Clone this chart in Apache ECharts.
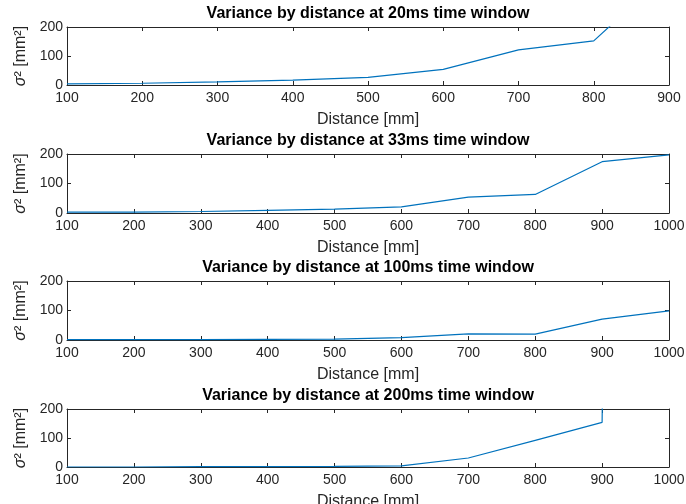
<!DOCTYPE html>
<html>
<head>
<meta charset="utf-8">
<script src="https://cdn.jsdelivr.net/npm/echarts@6/dist/echarts.min.js"></script>
<style>
    html, body { margin: 0; padding: 0; background: #fff; }
    #main { width: 686px; height: 504px; }
</style>
</head>
<body>
<div id="main"></div>
<script>
// 数据
var distance = [100, 200, 300, 400, 500, 600, 700, 800, 900, 1000];
var var20 = [4, 6, 11, 17, 26, 54, 121, 152, 390];
var var33 = [3, 3, 5, 9, 13, 21, 54, 63, 174, 197];
var var100 = [1, 1, 1, 2, 3, 8, 21, 20, 71, 99];
var var200 = [0, 0, 1, 1, 2, 4, 31, 92, 154, 20000];
var windows = ['20ms', '33ms', '100ms', '200ms'];
var xMax = [900, 1000, 1000, 1000];
var yTicks = [0, 100, 200];

var allVars = [var20, var33, var100, var200];
var tops = [27, 154, 281, 409];
var heights = [58, 59, 59, 58];
var axisColor = '#262626';
var fontFam = 'Liberation Sans, Arial, sans-serif';

function pairs(xs, ys) {
    var out = [];
    for (var i = 0; i < ys.length; i++) {
        out.push([xs[i], ys[i]]);
    }
    return out;
}

function plain(v) {
    return String(v);
}

var option = {
    animation: false,
    backgroundColor: '#fff',
    grid: [],
    xAxis: [],
    yAxis: [],
    series: []
};

for (var k = 0; k < 4; k++) {
    option.grid.push({
        left: 67, right: 17, top: tops[k], height: heights[k],
        outerBoundsMode: 'none',
        show: false
    });
    // 下方x轴
    option.xAxis.push({
        type: 'value', gridIndex: k, min: 100, max: xMax[k], interval: 100,
        position: 'bottom',
        name: 'Distance [mm]', nameLocation: 'middle', nameGap: 27,
        nameTextStyle: { color: axisColor, fontSize: 16, fontFamily: fontFam },
        axisLine: { onZero: false, lineStyle: { color: axisColor, width: 1 } },
        axisTick: { inside: true, length: 4, lineStyle: { color: axisColor } },
        axisLabel: { color: axisColor, fontSize: 14, fontFamily: fontFam, margin: 6,
            showMinLabel: true, showMaxLabel: true, formatter: plain },
        splitLine: { show: false }
    });
    // 上方x轴（标题）
    option.xAxis.push({
        type: 'value', gridIndex: k, min: 100, max: xMax[k], interval: 100,
        position: 'top',
        name: 'Variance by distance at ' + windows[k] + ' time window',
        nameLocation: 'middle', nameGap: 5,
        nameTextStyle: { color: '#000', fontSize: 16, fontWeight: 'bold', fontFamily: fontFam },
        axisLine: { onZero: false, lineStyle: { color: axisColor, width: 1 } },
        axisTick: { inside: true, length: 4, lineStyle: { color: axisColor } },
        axisLabel: { show: false },
        splitLine: { show: false }
    });
    // 左y轴
    option.yAxis.push({
        type: 'value', gridIndex: k, min: yTicks[0], max: yTicks[2], interval: 100,
        position: 'left',
        name: '{i|σ}² [mm²]', nameLocation: 'middle', nameGap: 22, nameRotate: 90,
        nameTextStyle: { color: axisColor, fontSize: 16, fontFamily: fontFam,
            rich: { i: { fontStyle: 'italic', fontSize: 16, fontFamily: fontFam, color: axisColor } } },
        axisLine: { onZero: false, lineStyle: { color: axisColor, width: 1 } },
        axisTick: { inside: true, length: 4, lineStyle: { color: axisColor } },
        axisLabel: { color: axisColor, fontSize: 14, fontFamily: fontFam, margin: 4 },
        splitLine: { show: false }
    });
    // 右y轴
    option.yAxis.push({
        type: 'value', gridIndex: k, min: yTicks[0], max: yTicks[2], interval: 100,
        position: 'right',
        axisLine: { onZero: false, lineStyle: { color: axisColor, width: 1 } },
        axisTick: { inside: true, length: 4, lineStyle: { color: axisColor } },
        axisLabel: { show: false },
        splitLine: { show: false }
    });
    option.series.push({
        type: 'line',
        xAxisIndex: k * 2,
        yAxisIndex: k * 2,
        data: pairs(distance, allVars[k]),
        showSymbol: false,
        clip: true,
        lineStyle: { color: '#0072BD', width: 1.2 },
        itemStyle: { color: '#0072BD' }
    });
}

var myChart = echarts.init(document.getElementById('main'));
myChart.setOption(option);
</script>
</body>
</html>
